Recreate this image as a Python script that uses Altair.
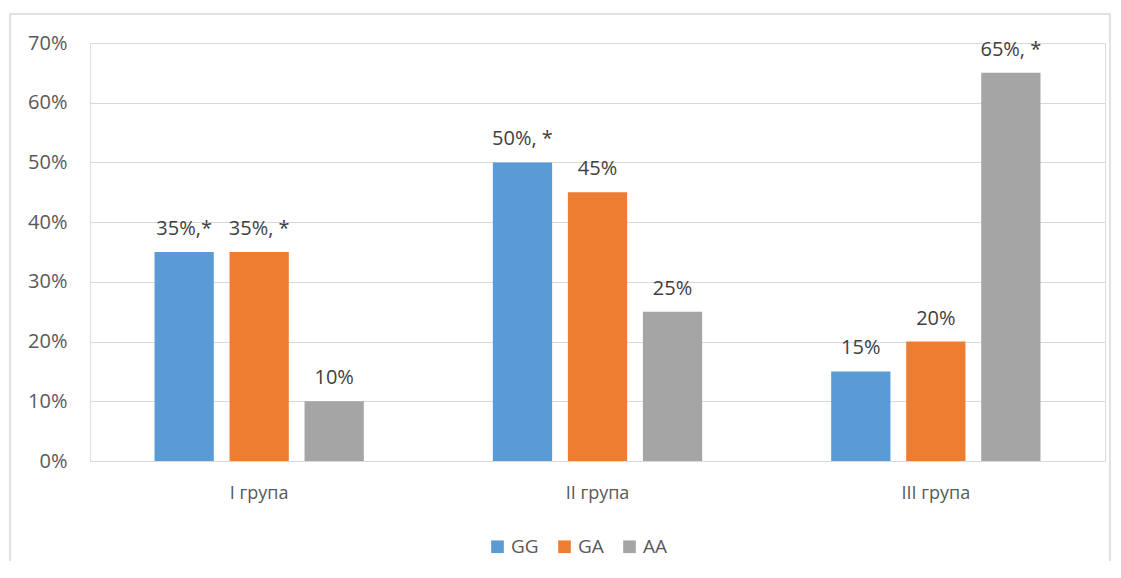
import altair as alt
import pandas as pd

groups = ["I група", "II група", "III група"]
genotypes = ["GG", "GA", "AA"]
gg = [0.35, 0.50, 0.15]
ga = [0.35, 0.45, 0.20]
aa = [0.10, 0.25, 0.65]
labels_gg = ["35%,*", "50%, *", "15%"]
labels_ga = ["35%, *", "45%", "20%"]
labels_aa = ["10%", "25%", "65%, *"]
colors = ["#5B9BD5", "#ED7D31", "#A5A5A5"]

rows = []
for i, g in enumerate(groups):
    for gen, vals, labs in zip(genotypes, [gg, ga, aa], [labels_gg, labels_ga, labels_aa]):
        rows.append({"group": g, "genotype": gen, "value": vals[i], "label": labs[i]})
df = pd.DataFrame(rows)

FONT = "Open Sans"

x = alt.X("group:N", sort=groups, title=None,
          scale=alt.Scale(paddingInner=0, paddingOuter=0),
          axis=alt.Axis(labelAngle=0, labelFontSize=18, labelColor="#595959", labelFont=FONT,
                        domain=False, ticks=False, labelPadding=23))
xo = alt.XOffset("genotype:N", sort=genotypes,
                 scale=alt.Scale(paddingInner=0.21, paddingOuter=0.86))
y = alt.Y("value:Q", title=None,
          scale=alt.Scale(domain=[0, 0.7]),
          axis=alt.Axis(format=".0%", values=[0, 0.1, 0.2, 0.3, 0.4, 0.5, 0.6, 0.7],
                        labelFontSize=20, labelColor="#595959", labelFont=FONT,
                        domain=False, ticks=False, labelPadding=23,
                        grid=True, gridColor="#D9D9D9", gridWidth=1))

bars = alt.Chart(df).mark_bar().encode(
    x=x, xOffset=xo, y=y,
    color=alt.Color("genotype:N", sort=genotypes,
                    scale=alt.Scale(domain=genotypes, range=colors),
                    legend=alt.Legend(title=None, orient="none", direction="horizontal",
                                      legendX=398, legendY=494, symbolType="square",
                                      symbolSize=160, symbolStrokeWidth=0,
                                      labelFontSize=19, labelColor="#595959", labelFont=FONT,
                                      columnPadding=16, labelOffset=4))
)

text = alt.Chart(df).mark_text(baseline="alphabetic", dy=-17, fontSize=20,
                               color="#404040", font=FONT).encode(
    x=alt.X("group:N", sort=groups), xOffset=alt.XOffset("genotype:N", sort=genotypes),
    y="value:Q", text="label:N"
)

border = alt.Chart(pd.DataFrame({"a": [0]})).mark_rect(
    fill=None, stroke="#D9D9D9", strokeWidth=1.5
).encode(x=alt.value(-80), x2=alt.value(1020), y=alt.value(-29), y2=alt.value(534))

chart = alt.layer(border, bars, text).properties(
    width=1015, height=418,
    autosize=alt.AutoSizeParams(type="none"),
    padding={"left": 82, "top": 35, "right": 8, "bottom": 100}
).configure_view(stroke=None).configure(background="white")

chart.save("out.html", embed_options={"renderer": "svg", "actions": False})
